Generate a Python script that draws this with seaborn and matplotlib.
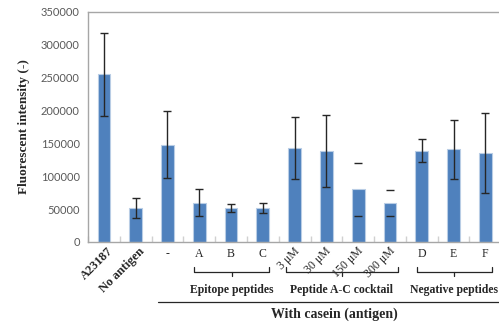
import numpy as np
import matplotlib
matplotlib.use("Agg")
import matplotlib.pyplot as plt
import matplotlib.transforms as mtrans
import seaborn as sns

# data
categories = ["A23187", "No antigen", "-", "A", "B", "C",
              "3 μM", "30 μM", "150 μM", "300 μM", "D", "E", "F"]
values = [255000, 52000, 148000, 60000, 52000, 52000,
          143000, 138000, 80000, 59000, 139000, 141000, 135000]
errors = [63000, 15000, 51000, 21000, 6000, 7500,
          47000, 55000, 40000, 20000, 17500, 45000, 61000]
# bars whose error line is not drawn (only caps visible)
caps_only = ["150 μM", "300 μM"]

groups = [("Epitope peptides", 2.85, 5.2),
          ("Peptide A-C cocktail", 5.72, 9.25),
          ("Negative peptides", 9.85, 12.2)]
outer_label = "With casein (antigen)"

sns.set_style("ticks")
serif = ["Liberation Serif", "DejaVu Serif"]
sans = ["Lato", "DejaVu Sans"]

fig = plt.figure(figsize=(4.99, 3.23), dpi=100)
ax = fig.add_axes([0.1764, 0.2508, 0.828, 0.7122])

sns.barplot(x=categories, y=values, color="#4f81bd", width=0.4,
            edgecolor="#b9cde5", linewidth=0.8, saturation=1, ax=ax)

xs = np.arange(len(categories))
for i, c in enumerate(categories):
    ew = 0 if c in caps_only else 1.0
    ax.errorbar(xs[i], values[i], yerr=errors[i], fmt="none",
                ecolor="#262626", elinewidth=ew, capsize=3, capthick=1.0)

ax.set_xlim(-0.5, len(categories) - 0.5)
ax.set_ylim(0, 350000)
ax.set_yticks(np.arange(0, 350001, 50000))
for lab in ax.get_yticklabels():
    lab.set_family(sans)
    lab.set_fontsize(8)
    lab.set_color("#595959")
ax.tick_params(axis="y", length=0, pad=6)

ax.set_xticks(xs)
ax.set_xticklabels(categories)
ax.set_xticks(np.arange(-0.5, len(categories), 1.0), minor=True)
ax.tick_params(axis="x", which="major", length=0, pad=4)
ax.tick_params(axis="x", which="minor", direction="in", length=4,
               color="#d0d0d0", width=1)
for lab in ax.get_xticklabels():
    t = lab.get_text()
    lab.set_family(serif)
    if t in ("A23187", "No antigen") or "μM" in t:
        if "μM" in t:
            lab.set_fontsize(8.5)
            dx = 3
        else:
            lab.set_fontweight("bold")
            lab.set_fontsize(9)
            dx = 7
        lab.set_rotation(45)
        lab.set_ha("right")
        lab.set_va("center")
        lab.set_rotation_mode("anchor")
        lab.set_transform(lab.get_transform() +
                          mtrans.ScaledTranslation(dx / 100, -2 / 100,
                                                   fig.dpi_scale_trans))
    else:
        lab.set_fontsize(8.5)

for s in ax.spines.values():
    s.set_color("#a6a6a6")
    s.set_linewidth(1.0)

ax.set_ylabel("Fluorescent intensity (-)", family=serif, fontweight="bold",
              fontsize=9.5, labelpad=8)

# group brackets under the axis
tr = ax.get_xaxis_transform()
for name, x0, x1 in groups:
    xm = (x0 + x1) / 2
    ax.plot([x0, x0, x1, x1], [-0.109, -0.130, -0.130, -0.109],
            transform=tr, clip_on=False, color="#262626", lw=0.9)
    ax.plot([xm, xm], [-0.130, -0.150], transform=tr, clip_on=False,
            color="#262626", lw=0.9)
    ax.text(xm, -0.209, name, transform=tr, ha="center", va="center",
            family=serif, fontweight="bold", fontsize=8.5)

ax.plot([1.7, 12.6], [-0.261, -0.261], transform=tr, clip_on=False,
        color="#262626", lw=0.9)
ax.text(7.25, -0.312, outer_label, transform=tr, ha="center", va="center",
        family=serif, fontweight="bold", fontsize=10)

fig.savefig("out.png", dpi=100)
